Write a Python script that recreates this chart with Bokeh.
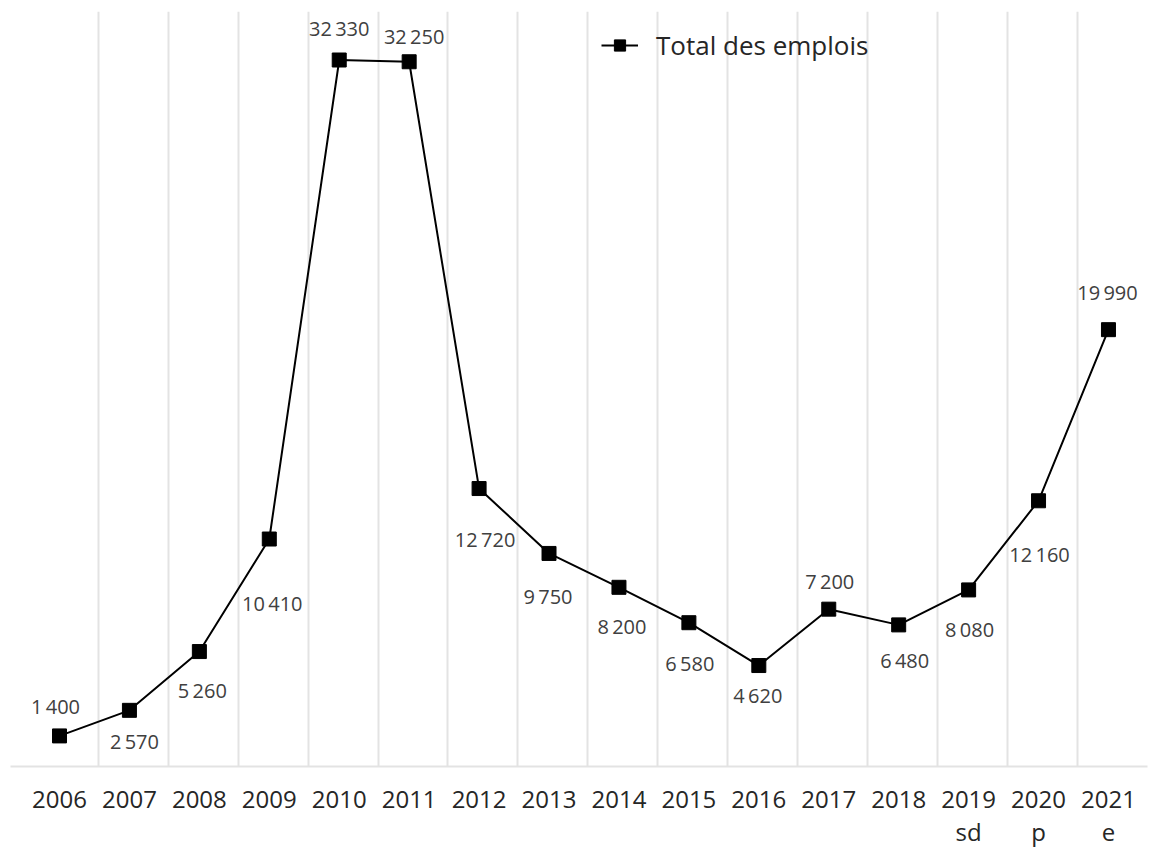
from bokeh.plotting import figure
from bokeh.models import ColumnDataSource, Range1d, FixedTicker, Legend, LegendItem, LabelSet
from bokeh.embed import file_html
from bokeh.resources import INLINE
from bokeh.core.properties import value

# ---- data ----
years = ["2006", "2007", "2008", "2009", "2010", "2011", "2012", "2013",
         "2014", "2015", "2016", "2017", "2018", "2019", "2020", "2021"]
year_suffix = ["", "", "", "", "", "", "", "", "", "", "", "", "", "sd", "p", "e"]
total_emplois = [1400, 2570, 5260, 10410, 32330, 32250, 12720, 9750,
                 8200, 6580, 4620, 7200, 6480, 8080, 12160, 19990]
series_name = "Total des emplois"

# ---- label placement (screen px, style only) ----
label_dx = [-4, 5, 3, 3, 0, 5, 6, -1, 3, 1, -1, 1, 6, 1, 1, -1]
label_dy = [-29, 31, 39, 64, -32, -25, 51, 43, 39, 41, 30, -28, 36, 40, 54, -37]

idx = list(range(len(years)))
labels = [f"{v:,}".replace(",", "\u2009") for v in total_emplois]

src = ColumnDataSource(dict(
    x=idx, y=total_emplois, label=labels,
    dx=label_dx, dy=[-d for d in label_dy],
))

FONT = "Open Sans"

p = figure(width=1155, height=850, output_backend="svg", toolbar_location=None,
           x_range=Range1d(-0.7007, 15.558), y_range=Range1d(0, 34550),
           y_axis_location=None,
           min_border_left=10, min_border_right=8, min_border_top=11, min_border_bottom=84)
p.outline_line_color = None
p.background_fill_color = "white"
p.border_fill_color = "white"

# grid
p.ygrid.visible = False
p.xgrid.ticker = FixedTicker(ticks=[i + 0.555 for i in idx[:-1]])
p.xgrid.grid_line_color = "#e3e3e3"
p.xgrid.grid_line_width = 2

# x axis
ax = p.xaxis[0]
ax.ticker = FixedTicker(ticks=idx)
ax.major_label_overrides = {i: (y if s == "" else f"{y}\n{s}") for i, (y, s) in enumerate(zip(years, year_suffix))}
ax.major_tick_line_color = None
ax.minor_tick_line_color = None
ax.major_tick_out = 0
ax.major_tick_in = 0
ax.minor_tick_out = 0
ax.minor_tick_in = 0
ax.axis_line_color = "#e3e3e3"
ax.axis_line_width = 2
ax.major_label_text_font = FONT
ax.major_label_text_font_size = "24px"
ax.major_label_text_color = "#262626"
ax.major_label_text_line_height = 1.0
ax.major_label_standoff = 15

line_r = p.line("x", "y", source=src, line_color="black", line_width=2)
pt_r = p.scatter("x", "y", source=src, marker="square", size=14,
                 fill_color="black", line_color="black")

lbl = LabelSet(x="x", y="y", text="label", source=src, x_offset="dx", y_offset="dy",
               text_align="center", text_baseline="middle",
               text_font=value(FONT), text_font_size="20px", text_color="#404040")
p.add_layout(lbl)

legend = Legend(items=[LegendItem(label=series_name, renderers=[line_r, pt_r])],
                location=(591, 703), padding=0, margin=0, spacing=0,
                glyph_width=37, glyph_height=28, label_standoff=18,
                label_text_font=FONT, label_text_font_size="26px",
                label_text_color="#262626",
                border_line_color=None, background_fill_alpha=0)
p.add_layout(legend)

open("out.html", "w").write(file_html(p, INLINE))
